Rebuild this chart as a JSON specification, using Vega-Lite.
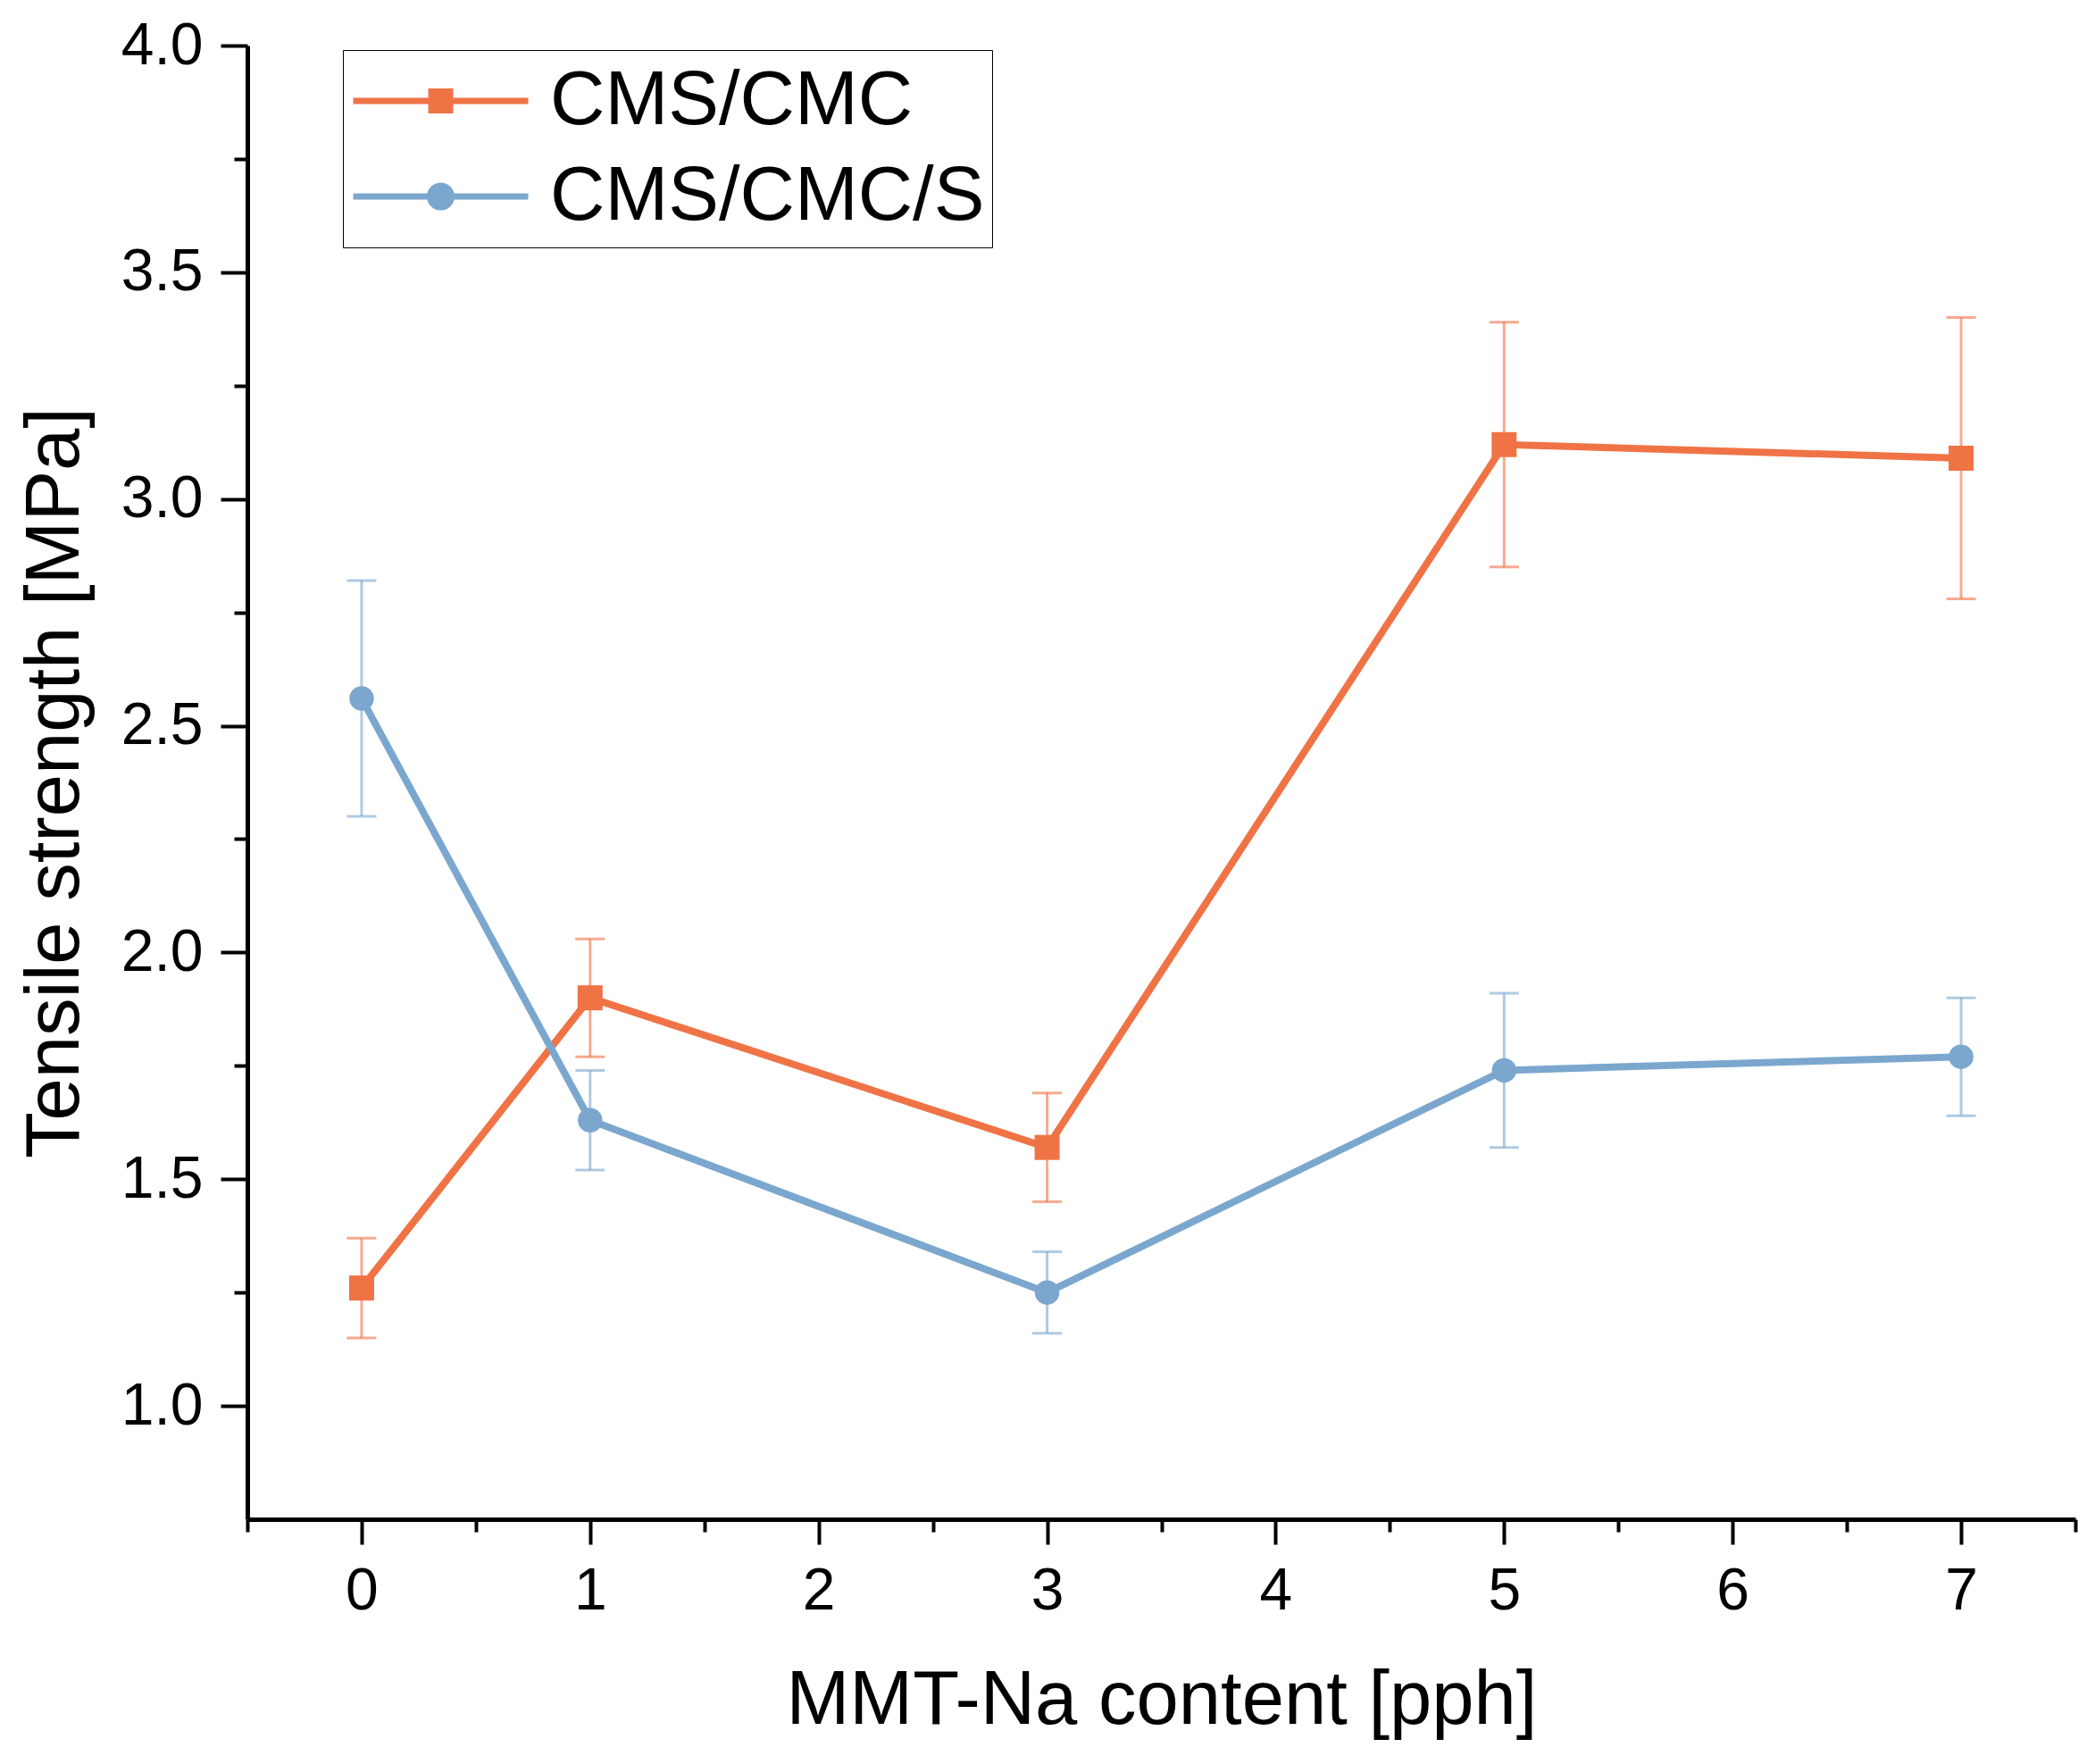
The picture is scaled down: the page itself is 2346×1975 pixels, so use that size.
{
  "$schema": "https://vega.github.io/schema/vega-lite/v6.json",
  "autosize": {"type": "none"},
  "width": 2047,
  "height": 1650,
  "padding": {"left": 277, "top": 51, "right": 22, "bottom": 274},
  "background": "white",
  "data": {
    "values": [
      {"series": "CMS/CMC", "mmt": 0, "ts": 1.26, "lo": 1.15, "hi": 1.37},
      {"series": "CMS/CMC", "mmt": 1, "ts": 1.90, "lo": 1.77, "hi": 2.03},
      {"series": "CMS/CMC", "mmt": 3, "ts": 1.57, "lo": 1.45, "hi": 1.69},
      {"series": "CMS/CMC", "mmt": 5, "ts": 3.12, "lo": 2.85, "hi": 3.39},
      {"series": "CMS/CMC", "mmt": 7, "ts": 3.09, "lo": 2.78, "hi": 3.40},
      {"series": "CMS/CMC/S", "mmt": 0, "ts": 2.56, "lo": 2.30, "hi": 2.82},
      {"series": "CMS/CMC/S", "mmt": 1, "ts": 1.63, "lo": 1.52, "hi": 1.74},
      {"series": "CMS/CMC/S", "mmt": 3, "ts": 1.25, "lo": 1.16, "hi": 1.34},
      {"series": "CMS/CMC/S", "mmt": 5, "ts": 1.74, "lo": 1.57, "hi": 1.91},
      {"series": "CMS/CMC/S", "mmt": 7, "ts": 1.77, "lo": 1.64, "hi": 1.90}
    ]
  },
  "resolve": {"axis": {"x": "independent", "y": "independent"}},
  "layer": [
    {
      "mark": {"type": "point", "filled": false, "opacity": 0, "strokeWidth": 7, "size": 38416},
      "encoding": {
        "x": {"field": "mmt", "type": "quantitative", "axis": null},
        "y": {"field": "ts", "type": "quantitative", "axis": null},
        "shape": {
          "field": "series", "type": "nominal",
          "scale": {
            "domain": ["CMS/CMC", "CMS/CMC/S"],
            "range": [
              "M-1,0H1M-0.107,-0.107H0.107V0.107H-0.107ZM-0.036,-0.036H0.036V0.036H-0.036Z",
              "M-1,0H1M0.122,0A0.122,0.122 0 1,1 -0.122,0A0.122,0.122 0 1,1 0.122,0ZM0.036,0A0.036,0.036 0 1,1 -0.036,0A0.036,0.036 0 1,1 0.036,0Z"
            ]
          }
        },
        "color": {
          "field": "series", "type": "nominal",
          "scale": {"domain": ["CMS/CMC", "CMS/CMC/S"], "range": ["#F07346", "#7BA7CE"]},
          "legend": {
            "orient": "none", "legendX": 107, "legendY": 5,
            "title": null, "direction": "vertical",
            "padding": 8, "rowPadding": 9, "clipHeight": 98,
            "symbolSize": 38416, "symbolStrokeWidth": 7, "symbolOpacity": 1,
            "labelFont": "Liberation Sans", "labelFontSize": 85, "labelColor": "black",
            "labelLimit": 1000, "labelOffset": 21,
            "strokeColor": "black"
          }
        }
      }
    },
    {
      "mark": {"type": "rule", "strokeWidth": 3, "opacity": 0.6},
      "encoding": {
        "x": {
          "field": "mmt", "type": "quantitative",
          "scale": {"domain": [-0.5, 7.5], "nice": false, "zero": false},
          "axis": {
            "orient": "bottom", "title": "MMT-Na content [pph]",
            "values": [0, 1, 2, 3, 4, 5, 6, 7], "format": "d",
            "grid": false, "tickSize": 28, "tickWidth": 4, "domainWidth": 5,
            "domainColor": "black", "tickColor": "black",
            "labelFont": "Liberation Sans", "labelFontSize": 66, "labelColor": "black", "labelPadding": 20,
            "titleFont": "Liberation Sans", "titleFontSize": 85, "titleFontWeight": "normal", "titleColor": "black", "titlePadding": 48
          }
        },
        "y": {
          "field": "lo", "type": "quantitative",
          "scale": {"domain": [0.75, 4.0], "nice": false, "zero": false},
          "axis": {
            "orient": "left", "title": "Tensile strength [MPa]",
            "values": [1, 1.5, 2, 2.5, 3, 3.5, 4], "format": ".1f",
            "grid": false, "tickSize": 30, "tickWidth": 4, "domainWidth": 5,
            "domainColor": "black", "tickColor": "black",
            "labelFont": "Liberation Sans", "labelFontSize": 66, "labelColor": "black", "labelPadding": 20,
            "titleFont": "Liberation Sans", "titleFontSize": 85, "titleFontWeight": "normal", "titleColor": "black", "titlePadding": 30
          }
        },
        "y2": {"field": "hi"},
        "color": {"field": "series", "type": "nominal"}
      }
    },
    {
      "mark": {"type": "tick", "orient": "horizontal", "size": 33, "thickness": 3, "opacity": 0.6},
      "encoding": {
        "x": {
          "field": "mmt", "type": "quantitative",
          "axis": {
            "orient": "bottom", "title": null, "labels": false, "domain": false, "grid": false,
            "values": [-0.5, 0.5, 1.5, 2.5, 3.5, 4.5, 5.5, 6.5, 7.5],
            "tickSize": 14, "tickWidth": 4, "tickColor": "black"
          }
        },
        "y": {
          "field": "lo", "type": "quantitative",
          "axis": {
            "orient": "left", "title": null, "labels": false, "domain": false, "grid": false,
            "values": [1.25, 1.75, 2.25, 2.75, 3.25, 3.75],
            "tickSize": 15, "tickWidth": 4, "tickColor": "black"
          }
        },
        "color": {"field": "series", "type": "nominal"}
      }
    },
    {
      "mark": {"type": "tick", "orient": "horizontal", "size": 33, "thickness": 3, "opacity": 0.6},
      "encoding": {
        "x": {"field": "mmt", "type": "quantitative", "axis": null},
        "y": {"field": "hi", "type": "quantitative", "axis": null},
        "color": {"field": "series", "type": "nominal"}
      }
    },
    {
      "mark": {"type": "line", "strokeWidth": 8},
      "encoding": {
        "x": {"field": "mmt", "type": "quantitative", "axis": null},
        "y": {"field": "ts", "type": "quantitative", "axis": null},
        "color": {"field": "series", "type": "nominal"}
      }
    },
    {
      "transform": [{"filter": "datum.series === 'CMS/CMC'"}],
      "mark": {"type": "point", "shape": "square", "size": 784, "filled": true, "opacity": 1},
      "encoding": {
        "x": {"field": "mmt", "type": "quantitative", "axis": null},
        "y": {"field": "ts", "type": "quantitative", "axis": null},
        "color": {"field": "series", "type": "nominal"}
      }
    },
    {
      "transform": [{"filter": "datum.series === 'CMS/CMC/S'"}],
      "mark": {"type": "point", "shape": "circle", "size": 755, "filled": true, "opacity": 1},
      "encoding": {
        "x": {"field": "mmt", "type": "quantitative", "axis": null},
        "y": {"field": "ts", "type": "quantitative", "axis": null},
        "color": {"field": "series", "type": "nominal"}
      }
    }
  ],
  "config": {"view": {"stroke": null}}
}
